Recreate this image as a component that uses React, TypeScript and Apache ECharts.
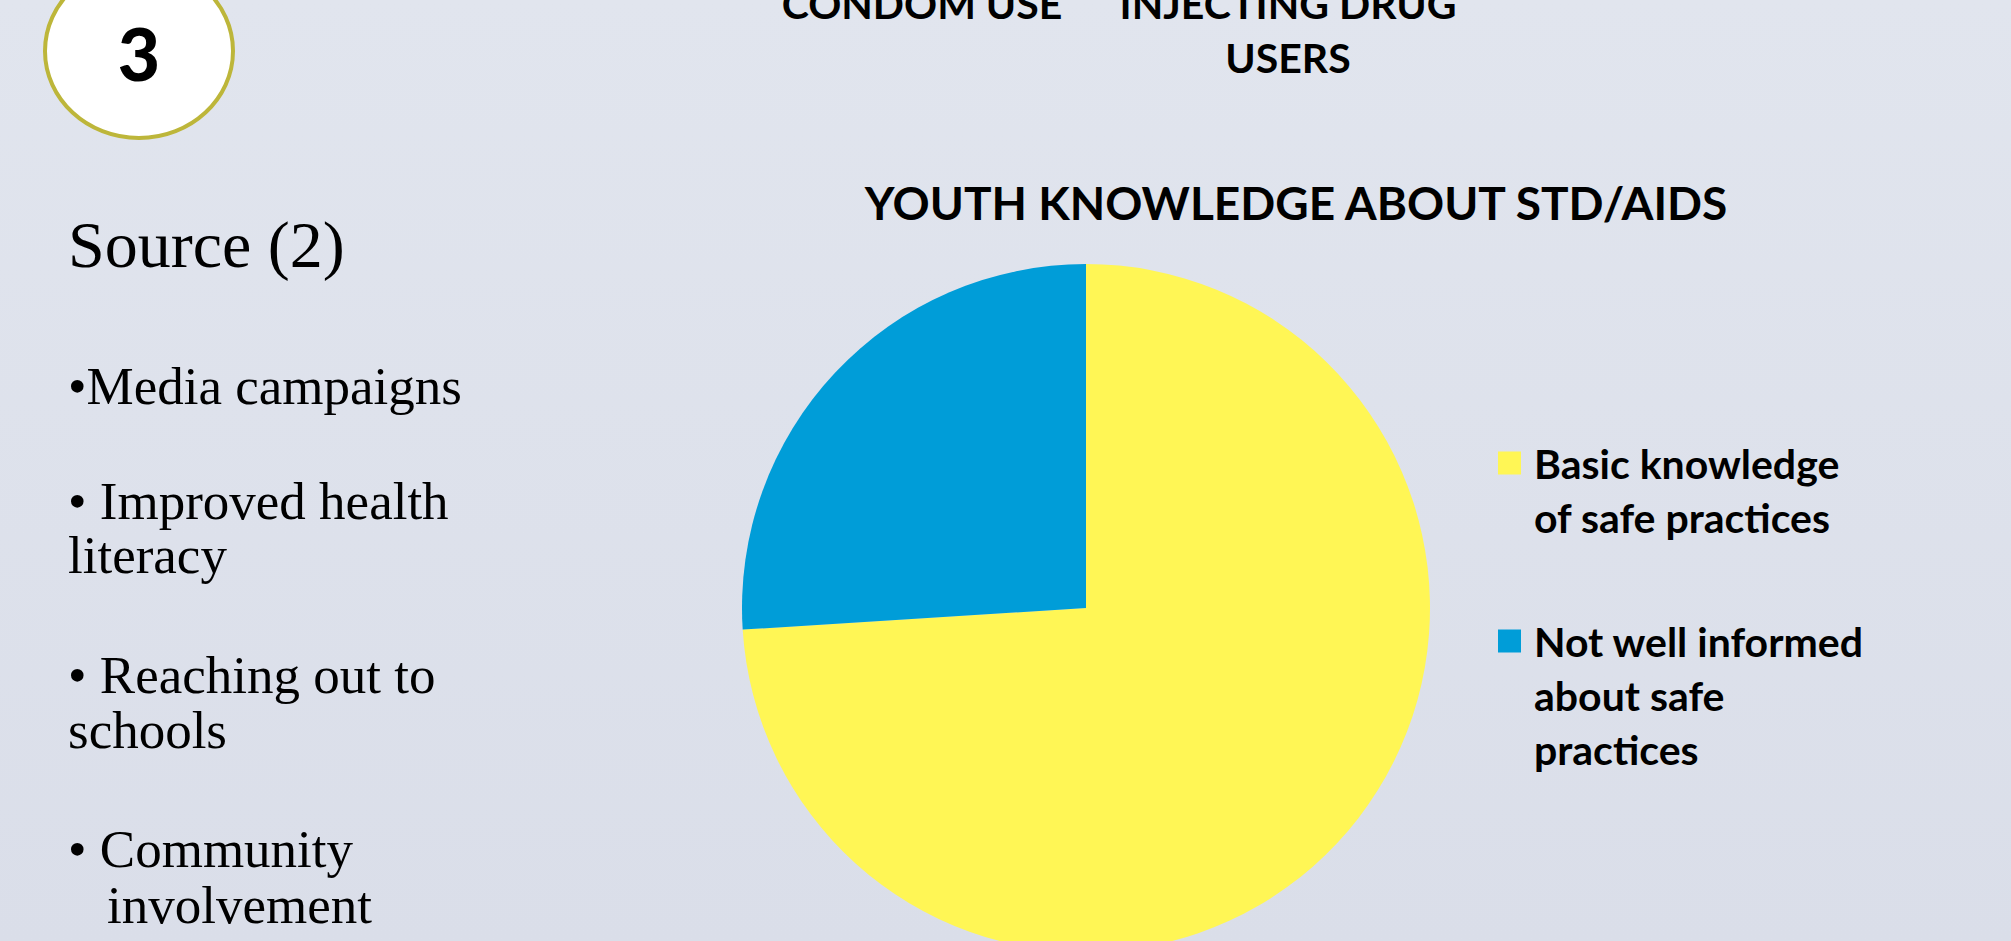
import React, { useEffect, useRef } from "react";
import * as echarts from "echarts";

const categories = [
  "Basic knowledge of safe practices",
  "Not well informed about safe practices",
];
const legendLines = [
  ["Basic knowledge", "of safe practices"],
  ["Not well informed", "about safe", "practices"],
];
const values = [74, 26];
const sliceColors = ["#FFF655", "#009DD8"];

const chartTitle = "YOUTH KNOWLEDGE ABOUT STD/AIDS";
const topTexts = ["CONDOM USE", "INJECTING DRUG", "USERS"];
const sourceHeading = "Source (2)";
const bulletLines = [
  "•Media campaigns",
  "• Improved health",
  "literacy",
  "• Reaching out to",
  "schools",
  "• Community",
  "involvement",
];
const slideNumber = "3";

const SERIF = "'Liberation Serif', 'Times New Roman', serif";
const SANS = "Lato, 'Open Sans', sans-serif";

export default function App() {
  const ref = useRef<HTMLDivElement>(null);
  useEffect(() => {
    document.body.style.margin = "0";
    if (!ref.current) return;
    const chart = echarts.init(ref.current, undefined, { renderer: "svg" });

    const serifMid = (baseline: number, fs: number) => baseline - 0.3375 * fs;
    const sansMid = (baseline: number, fs: number) => baseline - 0.387 * fs;

    const txt = (
      text: string,
      x: number,
      y: number,
      fs: number,
      family: string,
      weight: string,
      align: string
    ) => ({
      type: "text",
      x,
      y,
      z: 5,
      style: {
        text,
        fontSize: fs,
        fontFamily: family,
        fontWeight: weight,
        fill: "#000",
        align,
        textAlign: align,
        verticalAlign: "middle",
        textVerticalAlign: "middle",
      },
    });

    const bulletBaselines = [404, 519, 573, 693, 748, 867, 923];
    const bulletX = [68, 68, 68, 68, 68, 68, 107];

    const graphics: any[] = [
      {
        type: "rect",
        z: -10,
        shape: { x: 0, y: 0, width: 2011, height: 941 },
        style: {
          fill: new echarts.graphic.LinearGradient(0, 0, 0, 1, [
            { offset: 0, color: "#E1E5EE" },
            { offset: 1, color: "#DADEE9" },
          ]),
        },
      },
      {
        type: "ellipse",
        z: 4,
        shape: { cx: 139, cy: 51, rx: 94, ry: 87 },
        style: { fill: "#FFFFFF", stroke: "#BDB63A", lineWidth: 4 },
      },
      txt(slideNumber, 139, sansMid(81, 73), 73, SANS, "900", "center"),
      txt(topTexts[0], 922, sansMid(19, 41), 41, SANS, "bold", "center"),
      txt(topTexts[1], 1288, sansMid(19, 41), 41, SANS, "bold", "center"),
      txt(topTexts[2], 1288, sansMid(73, 41), 41, SANS, "bold", "center"),
      txt(sourceHeading, 68, serifMid(267, 66), 66, SERIF, "normal", "left"),
      ...bulletLines.map((t, i) =>
        txt(t, bulletX[i], serifMid(bulletBaselines[i], 53), 53, SERIF, "normal", "left")
      ),
    ];

    const option: any = {
      animation: false,
      title: {
        text: chartTitle,
        left: 1291,
        top: 174,
        textAlign: "center",
        textStyle: {
          fontFamily: SANS,
          fontWeight: "bold",
          fontSize: 46,
          color: "#000",
        },
      },
      legend: {
        orient: "vertical",
        left: 1498,
        top: 382,
        padding: 0,
        itemGap: -38,
        itemWidth: 39,
        itemHeight: 23,
        icon: "path://M0,0L23,0L23,23L0,23Z",
        selectedMode: false,
        data: categories,
        formatter: (name: string) => {
          const i = categories.indexOf(name);
          const lines = legendLines[i];
          return "\n".repeat(lines.length - 1) + lines.join("\n");
        },
        textStyle: {
          fontFamily: SANS,
          fontWeight: "bold",
          fontSize: 41,
          lineHeight: 54,
          color: "#000",
        },
      },
      graphic: graphics,
      series: [
        {
          type: "pie",
          center: [1086, 608],
          radius: 344,
          startAngle: 90,
          clockwise: true,
          label: { show: false },
          labelLine: { show: false },
          itemStyle: { borderWidth: 0 },
          emphasis: { disabled: true },
          data: categories.map((c, i) => ({
            name: c,
            value: values[i],
            itemStyle: { color: sliceColors[i] },
          })),
        },
      ],
    };
    chart.setOption(option);
    return () => chart.dispose();
  }, []);
  return <div ref={ref} style={{ width: 2011, height: 941 }} />;
}
